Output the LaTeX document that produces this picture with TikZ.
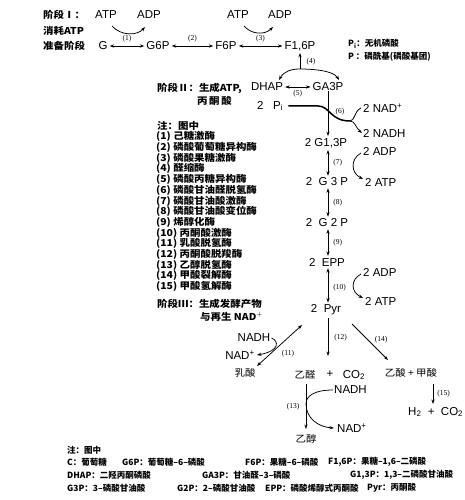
\documentclass[tikz,border=0pt]{standalone}
\usepackage{fontspec}
\setmainfont{Liberation Serif}
\setsansfont{Liberation Sans}
\newfontfamily\cjk[FakeStretch=1.1]{Noto Sans CJK SC}
\newfontfamily\cjkn{Noto Sans CJK SC}
\usetikzlibrary{arrows.meta}
\begin{document}
\begin{tikzpicture}[x=1pt,y=-1pt,
 lab/.style={font=\sffamily\fontsize{11.5}{12}\selectfont, inner sep=0pt},
 enz/.style={font=\fontsize{7.5}{8}\selectfont, inner sep=0pt},
 cn/.style={font=\cjk\bfseries\fontsize{9.5}{10}\selectfont, inner sep=0pt, anchor=west},
 cnc/.style={font=\cjk\fontsize{9.5}{10}\selectfont, inner sep=0pt},
 note/.style={font=\cjkn\bfseries\fontsize{8.5}{9}\selectfont, inner sep=0pt, anchor=west},
 ar/.style={-{Stealth[length=4.5pt,width=3.2pt]}, line width=0.75pt},
 dar/.style={{Stealth[length=4.5pt,width=3.2pt]}-{Stealth[length=4.5pt,width=3.2pt]}, line width=0.75pt, shorten <=2pt, shorten >=2pt}]
\useasboundingbox (0,0) rectangle (465,500);
\coordinate (col) at (328,0);
% ---- stage I
\node[cn] (s1) at (43,15) {阶段Ⅰ：};
\node[cn] (s1b) at (43,31) {消耗ATP};
\node[cn] (s1c) at (43,46) {准备阶段};
\node[lab] (atp1) at (106,15) {ATP};
\node[lab] (adp1) at (149,15) {ADP};
\node[lab] (g) at (103,46) {G};
\node[lab] (g6p) at (158,46) {G6P};
\node[lab] (f6p) at (226,46) {F6P};
\node[lab] (f16p) at (300,46) {F1,6P};
\node[lab] (atp2) at (238,15) {ATP};
\node[lab] (adp2) at (280,15) {ADP};
\draw[dar] (g) -- node[enz, above=4pt]{(1)} (g6p);
\draw[dar] (g6p) -- node[enz, above=4pt]{(2)} (f6p);
\draw[dar] (f6p) -- node[enz, above=4pt]{(3)} (f16p);
\coordinate (c1a) at (112,26); \coordinate (c1b) at (145,27);
\draw[ar] (c1a) .. controls (121,36) and (137,36) .. (c1b);
\coordinate (c3a) at (244,26); \coordinate (c3b) at (273,27);
\draw[ar] (c3a) .. controls (252,35) and (265,35) .. (c3b);
\node[note] (pi) at (348,44) {P\textsubscript{i}：无机磷酸};
\node[note] (pp) at (348,57) {P ：磷酰基(磷酸基团)};
% ---- stage II
\node[lab] (dhap) at (267,87) {DHAP};
\node[lab] (ga3p) at (328,87) {GA3P};
\draw[dar, line width=0.5pt] (dhap) -- node[enz, below=3pt]{(5)} (ga3p);
\coordinate (a4l) at (279,80); \coordinate (a4r) at (339,80); \coordinate (a4t) at (300,69);
\draw[dar, shorten <=0pt, shorten >=0pt] (a4l) .. controls (284,71) and (292,69) .. (a4t) .. controls (310,69) and (333,70) .. (a4r);
\draw[ar, shorten >=2pt] (a4t) -- (f16p);
\node[enz] (l4) at (311,62) {(4)};
\node[cn] (s2) at (157,88) {阶段Ⅱ：生成ATP,};
\node[cn] (s2b) at (197,101) {丙\,酮\,酸};
\node[lab, anchor=west] (pi2) at (257,106) {2\ \ \ P\textsubscript{i}};
\node[lab] (g13p) at (326,143) {2 G1,3P};
\draw[ar, shorten >=2pt] (ga3p.south -| col) -- (g13p.north -| col);
\node[enz] (l6) at (340,112) {(6)};
\coordinate (j) at (350,121);
\draw[line width=1.5pt] ([xshift=5pt]pi2.east) -- (318,106) .. controls (330,106) and (330,121) .. (j);
\node[lab, anchor=west] (nad1) at (363,108) {2 NAD\textsuperscript{+}};
\node[lab, anchor=west] (nadh1) at (363,133) {2 NADH};
\draw[line width=0.8pt] (j) .. controls (355,121) and (354,111) .. ([xshift=-2pt]nad1.west);
\draw[ar] (j) .. controls (355,121) and (356,128) .. ([xshift=-1pt]nadh1.west);
\node[lab] (g3p) at (327,182) {2\ \ G\ 3\ P};
\node[lab] (g2p) at (327,223) {2\ \ G\ 2\ P};
\node[lab] (epp) at (327,262) {2 \ EPP};
\node[lab] (pyr) at (326,310) {2 \ Pyr};
\draw[dar] (g13p.south -| col) -- node[enz, right=5pt]{(7)} (g3p.north -| col);
\draw[dar] (g3p.south -| col) -- node[enz, right=5pt]{(8)} (g2p.north -| col);
\draw[dar] (g2p.south -| col) -- node[enz, right=5pt]{(9)} (epp.north -| col);
\draw[dar] (epp.south -| col) -- node[enz, right=5pt, pos=0.55]{(10)} (pyr.north -| col);
\node[lab, anchor=west] (adp3) at (363,151) {2 ADP};
\node[lab, anchor=west] (atp3) at (365,182) {2 ATP};
\draw[ar] ([shift={(-2,2)}]adp3.west) .. controls (350,159) and (351,173) .. ([shift={(-2,-3)}]atp3.west);
\node[lab, anchor=west] (adp4) at (363,272) {2 ADP};
\node[lab, anchor=west] (atp4) at (365,301) {2 ATP};
\draw[ar] ([shift={(-2,2)}]adp4.west) .. controls (350,280) and (351,292) .. ([shift={(-2,-3)}]atp4.west);
% ---- stage III
\node[cn] (s3) at (157,304) {阶段Ⅲ：生成发酵产物};
\node[cn] (s3b) at (200,317) {与再生 NAD$^+$};
\coordinate (e12) at (328,356);
\draw[ar] ([yshift=-3pt]pyr.south -| col) -- node[enz, right=6pt]{(12)} (e12);
\coordinate (s14) at (352,324); \coordinate (e14) at (388,360);
\draw[ar] (s14) -- (e14);
\node[enz] (l14) at (381,340) {(14)};
\coordinate (s11) at (302,325); \coordinate (e11) at (257,366);
\draw[dar, shorten <=0pt, shorten >=0pt] (e11) -- (s11);
\node[enz] (l11) at (288,354) {(11)};
\node[lab] (nadh2) at (254,338) {NADH};
\node[lab] (nad2) at (240,355) {NAD\textsuperscript{+}};
\node[cnc] (lac) at (245,373) {乳酸};
\draw[ar] ([xshift=1pt]nadh2.east) .. controls (279,341) and (280,351) .. ([xshift=2pt]nad2.east);
\node[cnc] (acal) at (305,375) {乙醛};
\node[lab] (plus1) at (330,374) {+};
\node[lab] (co2a) at (354,375) {CO\textsubscript{2}};
\node[cnc] (acet) at (411,373) {乙酸 + 甲酸};
\coordinate (s15) at (433,384); \coordinate (e15) at (433,404);
\draw[ar] (s15) -- node[enz, right=4pt]{(15)} (e15);
\node[lab, anchor=west] (h2) at (408,412) {H\textsubscript{2} \ + \ CO\textsubscript{2}};
\coordinate (s13) at (306,384); \coordinate (e13) at (306,429);
\draw[ar] (s13) -- (e13);
\node[enz] (l13) at (293,407) {(13)};
\node[lab, anchor=west] (nadh3) at (334,390) {NADH};
\node[lab, anchor=west] (nad3) at (337,428) {NAD\textsuperscript{+}};
\node[cnc] (etoh) at (306,439) {乙醇};
\draw[ar] ([xshift=-1pt]nadh3.west) .. controls (314,390) and (306,396) .. (306,404) .. controls (306,418) and (318,427) .. ([xshift=-3pt]nad3.west);
% ---- legend
\node[cn] (n0) at (157,126) {注：图中};
\foreach \t [count=\i] in {己糖激酶,磷酸葡萄糖异构酶,磷酸果糖激酶,醛缩酶,磷酸丙糖异构酶,磷酸甘油醛脱氢酶,磷酸甘油酸激酶,磷酸甘油酸变位酶,烯醇化酶,丙酮酸激酶,乳酸脱氢酶,丙酮酸脱羧酶,乙醇脱氢酶,甲酸裂解酶,甲酸氢解酶}
  \node[cn] (e\i) at (156,126+10.7*\i) {(\i) \t};
% ---- bottom notes
\node[note] (b0) at (67,450) {注：图中};
\node[note] (b1) at (67,462) {C：葡萄糖};
\node[note] (b2) at (122,462) {G6P：葡萄糖–6–磷酸};
\node[note] (b3) at (245,462) {F6P：果糖–6–磷酸};
\node[note] (b4) at (328,462) {F1,6P：果糖–1,6–二磷酸};
\node[note] (b5) at (67,475) {DHAP：二羟丙酮磷酸};
\node[note] (b6) at (202,475) {GA3P：甘油醛–3–磷酸};
\node[note] (b7) at (350,475) {G1,3P：1,3–二磷酸甘油酸};
\node[note] (b8) at (67,488) {G3P：3–磷酸甘油酸};
\node[note] (b9) at (177,488) {G2P：2–磷酸甘油酸};
\node[note] (b10) at (265,488) {EPP：磷酸烯醇式丙酮酸};
\node[note] (b11) at (367,488) {Pyr：丙酮酸};
\end{tikzpicture}
\end{document}
